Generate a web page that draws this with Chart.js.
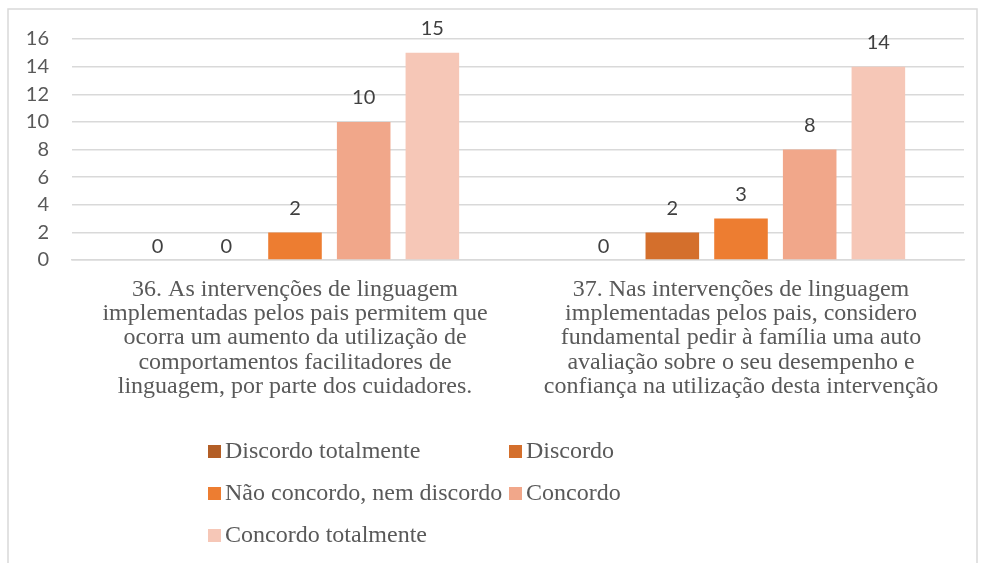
<!DOCTYPE html>
<html>
<head>
<meta charset="utf-8">
<script src="https://cdn.jsdelivr.net/npm/chart.js@4/dist/chart.umd.min.js"></script>
<style>
html,body{margin:0;padding:0;background:#fff;}
#wrap{position:absolute;left:0;top:0;width:981px;height:563px;}
</style>
</head>
<body>
<div id="wrap"><canvas id="c" width="981" height="563"></canvas></div>
<script>
const categories = [
  ["36. As intervenções de linguagem","implementadas pelos pais permitem que","ocorra um aumento da utilização de","comportamentos facilitadores de","linguagem, por parte dos cuidadores."],
  ["37. Nas intervenções de linguagem","implementadas pelos pais, considero","fundamental pedir à família uma auto","avaliação sobre o seu desempenho e","confiança na utilização desta intervenção"]
];
const seriesNames = ["Discordo totalmente","Discordo","Não concordo, nem discordo","Concordo","Concordo totalmente"];
const discordoTotalmente = [0, 0];
const discordo = [0, 2];
const naoConcordoNemDiscordo = [2, 3];
const concordo = [10, 8];
const concordoTotalmente = [15, 14];
const seriesValues = [discordoTotalmente, discordo, naoConcordoNemDiscordo, concordo, concordoTotalmente];
const colors = ["#B35E26","#D46F2C","#ED7D31","#F1A78A","#F6C7B7"];
const yTicks = [0,2,4,6,8,10,12,14,16];

const frame = {
  id:'frame',
  beforeDraw(chart){
    const ctx = chart.ctx;
    ctx.save();
    ctx.strokeStyle = '#d9d9d9';
    ctx.lineWidth = 1.5;
    ctx.strokeRect(8, 9, 969, 570);
    ctx.restore();
  }
};

const dataLabels = {
  id:'dataLabels',
  afterDatasetsDraw(chart){
    const ctx = chart.ctx;
    ctx.save();
    ctx.font = '20px Lato, "Open Sans", sans-serif';
    ctx.fillStyle = '#404040';
    ctx.textAlign = 'center';
    ctx.textBaseline = 'middle';
    chart.data.datasets.forEach((ds, i) => {
      const meta = chart.getDatasetMeta(i);
      meta.data.forEach((el, j) => {
        const v = ds.data[j];
        const off = v === 0 ? 13 : 24;
        ctx.fillText(String(v), el.x, el.y - off);
      });
    });
    ctx.restore();
  }
};

const legendPlugin = {
  id:'customLegend',
  afterDraw(chart){
    const ctx = chart.ctx;
    ctx.save();
    ctx.font = '24px "Liberation Serif", "Times New Roman", serif';
    ctx.textBaseline = 'middle';
    ctx.textAlign = 'left';
    const cols = [208, 509];
    const rows = [451, 493, 535];
    seriesNames.forEach((name, i) => {
      const x = cols[i % 2];
      const y = rows[Math.floor(i / 2)];
      ctx.fillStyle = colors[i];
      ctx.fillRect(x, y - 6, 13, 13);
      ctx.fillStyle = '#595959';
      ctx.fillText(name, x + 17, y + 1);
    });
    ctx.restore();
  }
};

new Chart(document.getElementById('c'), {
  type: 'bar',
  data: {
    labels: categories,
    datasets: seriesNames.map((n, i) => ({
      label: n,
      data: seriesValues[i],
      backgroundColor: colors[i],
      borderWidth: 0,
      categoryPercentage: 0.77,
      barPercentage: 0.78
    }))
  },
  options: {
    responsive: false,
    animation: false,
    layout: { padding: { top: 39, right: 17, bottom: 0, left: 0 } },
    plugins: { legend: { display: false }, tooltip: { enabled: false } },
    scales: {
      x: {
        grid: { display: false, drawTicks: false },
        border: { display: true, color: '#d9d9d9', width: 1.5 },
        ticks: {
          autoSkip: false, maxRotation: 0, minRotation: 0, padding: 17,
          color: '#595959',
          font: { family: '"Liberation Serif", "Times New Roman", serif', size: 24, lineHeight: 1.02 }
        },
        afterFit(scale){ scale.height = 303; }
      },
      y: {
        min: 0, max: 16,
        afterBuildTicks(scale){ scale.ticks = yTicks.map(v => ({ value: v })); },
        grid: { color: '#d9d9d9', lineWidth: 1.5, drawTicks: false },
        border: { display: false },
        ticks: {
          padding: 23, color: '#595959',
          font: { family: 'Lato, "Open Sans", sans-serif', size: 20 }
        },
        afterFit(scale){ scale.width = 72; }
      }
    }
  },
  plugins: [frame, dataLabels, legendPlugin]
});
</script>
</body>
</html>
